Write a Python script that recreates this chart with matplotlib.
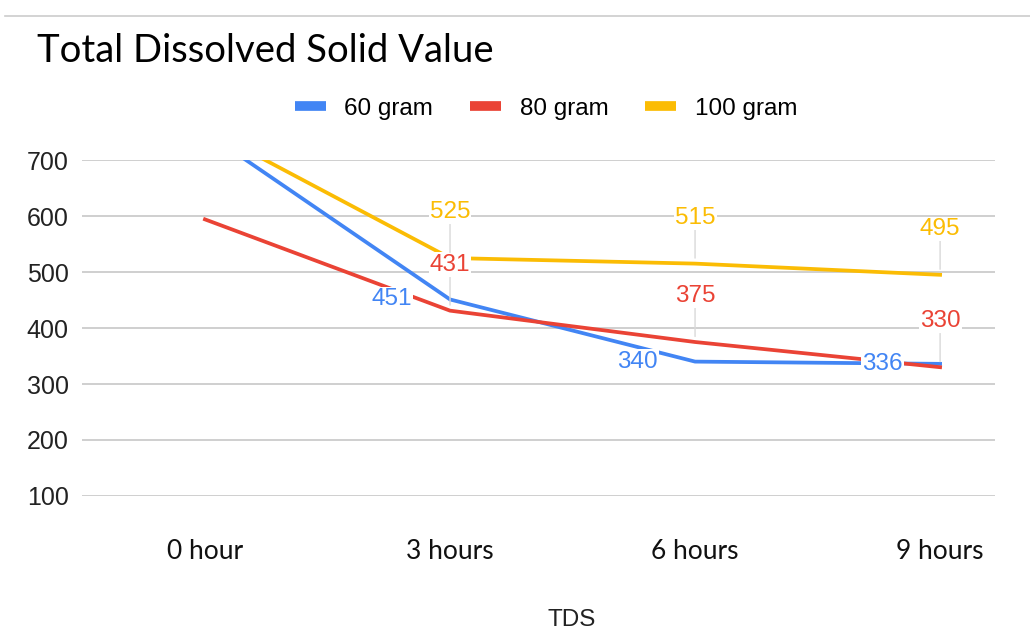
import matplotlib
matplotlib.use("Agg")
import matplotlib.pyplot as plt
from matplotlib.lines import Line2D

# data
times = ["0 hour", "3 hours", "6 hours", "9 hours"]
series_names = ["60 gram", "80 gram", "100 gram"]
gram60 = [750, 451, 340, 336]
gram80 = [594, 431, 375, 330]
gram100 = [757, 525, 515, 495]
yticks = [100, 200, 300, 400, 500, 600, 700]

colors = ["#4285F4", "#EA4335", "#FBBC04"]
values = [gram60, gram80, gram100]
# offsets (pixels) of the value labels, blue to the left, the rest above
label_offsets = [(-58, 0), (0, 46), (0, 46)]

fig = plt.figure(figsize=(10.3, 6.32), dpi=100)
ax = fig.add_axes([0.0796, 0.2152, 0.8864, 0.5316])

x = list(range(len(times)))
for vals, col in zip(values, colors):
    ax.plot(x, vals, color=col, lw=2.7, solid_joinstyle="round", zorder=3)

# value labels for 3, 6, 9 hours
for vals, col, off in zip(values, colors, label_offsets):
    for i in range(1, len(times)):
        if off[0] == 0:
            arrow = dict(arrowstyle="-", color="#d9d9d9", lw=1, shrinkA=0, shrinkB=4)
        else:
            arrow = None
        ax.annotate(str(vals[i]), xy=(i, vals[i]), xytext=off, textcoords="offset pixels",
                    ha="center", va="center", color=col, fontsize=17.5,
                    family="Liberation Sans", arrowprops=arrow, zorder=5,
                    bbox=dict(boxstyle="square,pad=0.05", fc="white", ec="none"),
                    annotation_clip=False)

ax.set_ylim(100, 700)
ax.set_xlim(-0.502, 3.224)
ax.set_yticks(yticks)
ax.set_xticks(x)
ax.set_xticklabels(times, family="Lato", fontsize=19, color="#111111")
ax.tick_params(axis="x", length=0, pad=31)
ax.tick_params(axis="y", length=0, pad=9.5, labelsize=18, labelcolor="#222222")
for lab in ax.get_yticklabels():
    lab.set_family("Liberation Sans")
ax.grid(axis="y", color="#cccccc", lw=1.3)
ax.set_axisbelow(True)
for s in ax.spines.values():
    s.set_visible(False)

fig.text(0.5555, 0.019, "TDS", ha="center", va="center", fontsize=17.5,
         family="Liberation Sans", color="#222222")
fig.text(0.036, 0.920, "Total Dissolved Solid Value", ha="left", va="center",
         fontsize=27.5, family="Lato", color="#000000")

handles = [Line2D([], [], color=c, lw=7, solid_capstyle="butt") for c in colors]
fig.legend(handles, series_names, loc="center", bbox_to_anchor=(0.53, 0.828), ncol=3,
           frameon=False, handlelength=1.3, handletextpad=0.75, columnspacing=1.5,
           prop={"family": "Liberation Sans", "size": 17.5})

# slide edge
fig.add_artist(Line2D([0.005, 1.0], [0.975, 0.975], color="#cccccc", lw=1.2,
                      transform=fig.transFigure))

fig.savefig("out.png", dpi=100, facecolor="white")
